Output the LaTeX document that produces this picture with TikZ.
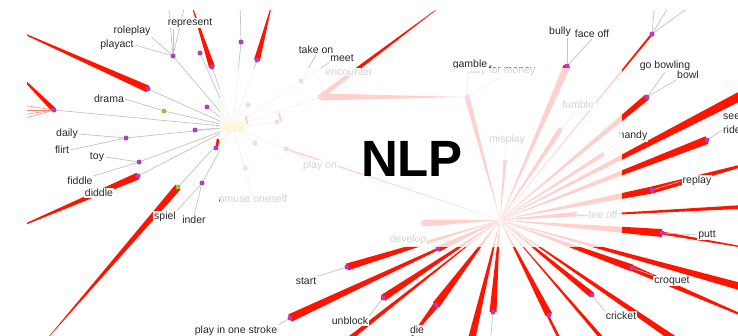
\documentclass[tikz,border=0pt]{standalone}
\usepackage{fontspec}
\setmainfont{Liberation Sans}
\usetikzlibrary{calc}
\definecolor{wred}{RGB}{255,20,0}
\definecolor{dotp}{RGB}{180,60,190}
\definecolor{dotg}{RGB}{140,200,60}
\definecolor{spk}{RGB}{195,195,195}
\definecolor{lbltext}{RGB}{40,40,40}
\definecolor{hubfill}{RGB}{255,215,70}
% tapered red edge: wide at the first end, pointed at the second
\newcommand\wdg[3]{\fill[wred] ($(#1.center)!#3!90:(#2.center)$) -- ($(#1.center)!#3!-90:(#2.center)$) -- (#2.center) -- cycle;}
\tikzset{
  pdot/.style={circle,fill=dotp,inner sep=0pt,minimum size=5pt},
  gdot/.style={circle,fill=dotg,inner sep=0pt,minimum size=5pt},
  lbl/.style={fill=white,text=lbltext,inner sep=1pt,font=\fontsize{10.5}{12}\selectfont},
  spoke/.style={draw=spk,line width=0.7pt},
}
\begin{document}
\begin{tikzpicture}[x=1pt,y=-1pt]
\useasboundingbox (0,0) rectangle (738,335);
\begin{scope}
\clip (27,10) rectangle (738,335);

% ---------- hubs and nodes ----------
\coordinate (hAc) at (233,127);
\coordinate (hB) at (500,220);
% left cluster
\coordinate (pA1) at (173,56);
\coordinate (pA2) at (148,89);
\coordinate (pA3) at (200,53);
\coordinate (pA4) at (212,67);
\coordinate (pA5) at (207,107);
\coordinate (gA6) at (164,111);
\coordinate (pA7) at (54,110);
\coordinate (pA8) at (195,130);
\coordinate (pA9) at (126,138);
\coordinate (pA10) at (216,148);
\coordinate (pA11) at (139,162);
\coordinate (pA12) at (138,176);
\coordinate (gA13) at (178,187);
\coordinate (pA14) at (202,183);
\coordinate (pA15) at (241,42);
\coordinate (pA16) at (257,60);
\coordinate (fA1) at (248,105);
\coordinate (fA2) at (277,122);
\coordinate (fA3) at (255,143);
\coordinate (fA4) at (286,149);
\coordinate (fA5) at (245,168);
\coordinate (fA6) at (301,81);
\coordinate (enc) at (320,97);
\coordinate (sH) at (467,97);
% right cluster
\coordinate (b1) at (290,318);
\coordinate (b2) at (347,267);
\coordinate (b3) at (383,298);
\coordinate (b4) at (335,350);
\coordinate (b5) at (438,249);
\coordinate (b6) at (423,223);
\coordinate (b7) at (436,305);
\coordinate (b8) at (493,312);
\coordinate (b32) at (469,350);
\coordinate (b9) at (549,315);
\coordinate (b30) at (565,350);
\coordinate (b11) at (592,295);
\coordinate (b12) at (612,350);
\coordinate (b13) at (690,350);
\coordinate (b14) at (632,268);
\coordinate (b15) at (760,292);
\coordinate (b16) at (662,233);
\coordinate (b17) at (760,206);
\coordinate (b18) at (575,214);
\coordinate (b19) at (652,190);
\coordinate (b20) at (707,140);
\coordinate (b21) at (760,86);
\coordinate (b22) at (602,155);
\coordinate (b23) at (647,97);
\coordinate (b24) at (652,34);
\coordinate (b25) at (567,66);
\coordinate (b26) at (560,130);
\coordinate (b27) at (505,162);
% far ends of edges leaving the view
\coordinate (o1) at (0,23);
\coordinate (o2) at (10,66);
\coordinate (o3) at (190,0);
\coordinate (o4) at (0,235);
\coordinate (o5) at (40,347);
\coordinate (o6) at (273,0);
\coordinate (o7) at (449,0);
\coordinate (o8) at (405,345);
\coordinate (o9) at (800,340);
\coordinate (o10) at (800,257);
\coordinate (o11) at (800,150);
\coordinate (t1) at (240,0);
\coordinate (t2) at (168,0);
\coordinate (t3) at (186,0);
\coordinate (t4) at (655,0);
\coordinate (t5) at (673,0);
\coordinate (t6) at (699,0);
\coordinate (f1) at (15,104);
\coordinate (f2) at (15,110);
\coordinate (f3) at (15,116);
\coordinate (f4) at (15,121);
\coordinate (d1) at (490,345);
\coordinate (d2) at (562,345);

% ---------- grey spokes ----------
\foreach \t in {pA1,pA2,pA3,pA4,pA5,gA6,pA7,pA8,pA9,pA10,pA11,pA12,gA13,pA14,pA15,pA16,fA1,fA2,fA3,fA4,fA5,fA6,enc}
  \draw[spoke] (hAc) -- (\t);
\draw[spoke] (pA15) -- (t1);
\draw[spoke] (pA1) -- (t2);
\draw[spoke] (pA1) -- (t3);
\foreach \t in {t4,t5,t6} \draw[spoke] (b24) -- (\t);
\draw[spoke] (b8) -- (d1);
\draw[spoke] (b9) -- (d2);

% ---------- red tapered edges ----------
\wdg{pA2}{o1}{3.5pt}
\wdg{pA7}{o2}{2.5pt}
\foreach \t in {f1,f2,f3,f4} \draw[wred!55,line width=0.5pt] (pA7) -- (\t);
\wdg{pA4}{o3}{3pt}
\wdg{pA12}{o4}{3.5pt}
\wdg{gA13}{o5}{3.5pt}
\wdg{pA16}{o6}{3pt}
\draw[wred,line width=2.5pt] (217,146) -- (218,139);
\draw[wred,line width=2pt] (246,116) -- (247,124);
\draw[wred,line width=2pt] (279,113) -- (281,121);
\wdg{enc}{o7}{2.5pt}
\wdg{enc}{sH}{3.5pt}
\wdg{sH}{hB}{2.5pt}
\wdg{fA4}{hB}{0.8pt}
\wdg{b1}{hB}{4pt}
\wdg{b2}{hB}{3.5pt}
\wdg{b3}{hB}{3.5pt}
\wdg{b4}{hB}{2.5pt}
\wdg{b5}{hB}{3pt}
\wdg{b6}{hB}{3.5pt}
\wdg{b7}{hB}{4pt}
\wdg{b7}{o8}{3pt}
\wdg{b8}{hB}{3.5pt}
\wdg{b32}{hB}{4pt}
\wdg{b9}{hB}{3.5pt}
\wdg{b30}{hB}{1.5pt}
\wdg{b11}{hB}{3pt}
\wdg{b12}{hB}{2pt}
\wdg{b13}{hB}{3.5pt}
\wdg{b14}{hB}{3.5pt}
\wdg{b14}{o9}{3pt}
\wdg{b15}{hB}{4pt}
\wdg{b16}{hB}{4pt}
\wdg{b16}{o10}{1.5pt}
\wdg{b17}{hB}{2pt}
\wdg{b18}{hB}{2pt}
\wdg{b19}{hB}{3.5pt}
\wdg{b19}{o11}{3.5pt}
\wdg{b20}{hB}{4pt}
\wdg{b21}{hB}{5pt}
\wdg{b22}{hB}{2pt}
\wdg{b23}{hB}{3pt}
\wdg{b24}{hB}{1pt}
\wdg{b25}{hB}{3.5pt}
\wdg{b26}{hB}{2.5pt}
\wdg{b27}{hB}{1.5pt}

% ---------- dots ----------
\node[draw=none,fill=hubfill,minimum width=22pt,minimum height=10pt,inner sep=0pt] (hA) at (hAc) {};
\foreach \t in {pA1,pA2,pA3,pA4,pA5,pA7,pA8,pA9,pA10,pA11,pA12,pA14,pA15,pA16,fA1,fA2,fA3,fA4,fA5,fA6,enc,sH,
  b1,b2,b3,b5,b6,b7,b8,b9,b11,b14,b16,b18,b19,b20,b22,b23,b24,b25,b26,b27}
  \node[pdot] (n\t) at (\t) {};
\node[gdot] (ngA6) at (gA6) {};
\node[gdot] (ngA13) at (gA13) {};
\node[circle,fill=dotp!35,inner sep=0pt,minimum size=5pt] (nhB) at (hB) {};

% ---------- labels ----------
\node[lbl] (Lrep) at (190,23) {represent};
\draw[spoke] (npA1) -- (Lrep.south -| npA1);
\node[lbl] (Lrole) at (132,31) {roleplay};
\node[lbl] (Lplayact) at (117,45) {playact};
\draw[spoke] (npA1) -- (Lrole.south east);
\draw[spoke] (npA1) -- (Lplayact.east);
\node[lbl] (Ldrama) at (109,99) {drama};
\draw[spoke] (ngA6) -- (Ldrama.east);
\node[lbl] (Ldaily) at (67,134) {daily};
\node[lbl] (Lflirt) at (62,150) {flirt};
\draw[spoke] (npA9) -- (Ldaily.east);
\draw[spoke] (npA9) -- (Lflirt.east);
\node[lbl] (Ltoy) at (97,157) {toy};
\draw[spoke] (npA11) -- (Ltoy.east);
\node[lbl] (Lfiddle) at (80,181) {fiddle};
\draw[spoke] (npA11) -- (Lfiddle.north east);
\node[lbl] (Ldiddle) at (99,193) {diddle};
\node[lbl] (Linder) at (194,220) {inder};
\node[lbl] (Lspiel) at (165,217) {spiel};
\draw[spoke] (npA14) -- (Lspiel.north east);
\draw[spoke] (npA14) -- (Linder.north);

\node[lbl] (Lamuse) at (253,199) {amuse oneself};
\draw[spoke] (hA) -- (Lamuse);
\node[lbl] (Lplayon) at (320,166) {play on};
\draw[spoke] (nfA4) -- (Lplayon);
\node[lbl] (Lmeet) at (342,58) {meet};
\node[lbl] (Ltake) at (316,50) {take on};
\draw[spoke] (nfA6) -- (Ltake.south);
\draw[spoke] (nfA6) -- (Lmeet.south west);
\node[lbl] (Lenc) at (349,72) {encounter};
\draw[spoke] (nenc) -- (Lenc.south west);
\node[lbl] (Lmoney) at (501,71) {play for money};
\node[lbl] (Lgamble) at (470,65) {gamble};
\draw[spoke] (nsH) -- (Lgamble.south -| nsH);
\draw[spoke] (nsH) -- (Lmoney.south);
\node[lbl] (Lmisplay) at (507,140) {misplay};
\draw[spoke] (nb27) -- (Lmisplay.south -| nb27);
\node[lbl] (Lfumble) at (578,105) {fumble};
\draw[spoke] (nb26) -- (Lfumble.south);
\node[lbl] (Lbully) at (560,32) {bully};
\node[lbl] (Lface) at (592,34) {face off};
\draw[spoke] (nb25) -- (Lbully.south -| nb25);
\draw[spoke] (nb25) -- (Lface.south);
\node[lbl] (Lbowling) at (665,66) {go bowling};
\node[lbl] (Lbowl) at (688,75) {bowl};
\draw[spoke] (nb23) -- (Lbowling.south);
\draw[spoke] (nb23) -- (Lbowl.south west);
\node[lbl,anchor=west] (Lsee) at (722,117) {see};
\node[lbl,anchor=west] (Lride) at (722,130) {ride};
\draw[spoke] (nb20) -- (Lride.west);
\node[lbl] (Lhandy) at (633,136) {handy};
\draw[spoke] (nb22) -- (Lhandy.south west);
\node[lbl] (Lreplay) at (697,181) {replay};
\draw[spoke] (nb19) -- (Lreplay.west);
\node[lbl] (Ltee) at (603,215) {tee off};
\draw[spoke] (nb18) -- (Ltee.west);
\node[lbl] (Lputt) at (707,235) {putt};
\draw[spoke] (nb16) -- (Lputt.west);
\node[lbl] (Lcroquet) at (672,281) {croquet};
\draw[spoke] (nb14) -- (Lcroquet.north west);
\node[lbl] (Lcricket) at (621,316) {cricket};
\draw[spoke] (nb11) -- (Lcricket.north west);
\node[lbl] (Ldevelop) at (408,240) {develop};
\draw[spoke] (nb5) -- (Ldevelop.east);
\node[lbl] (Lstart) at (306,281) {start};
\draw[spoke] (nb2) -- (Lstart.north east);
\node[lbl] (Lunblock) at (350,321) {unblock};
\draw[spoke] (nb3) -- (Lunblock.north east);
\node[lbl] (Ldie) at (417,330) {die};
\node[lbl] (Lstroke) at (236,331) {play in one stroke};
\draw[spoke] (nb1) -- (Lstroke.north east);

% ---------- veil over the middle ----------
\fill[white,opacity=0.8] (220,68) rectangle (622,247);
\end{scope}

\node[inner sep=0pt,font=\fontsize{51}{51}\bfseries\selectfont] (title) at (412,159) {NLP};
\end{tikzpicture}
\end{document}
